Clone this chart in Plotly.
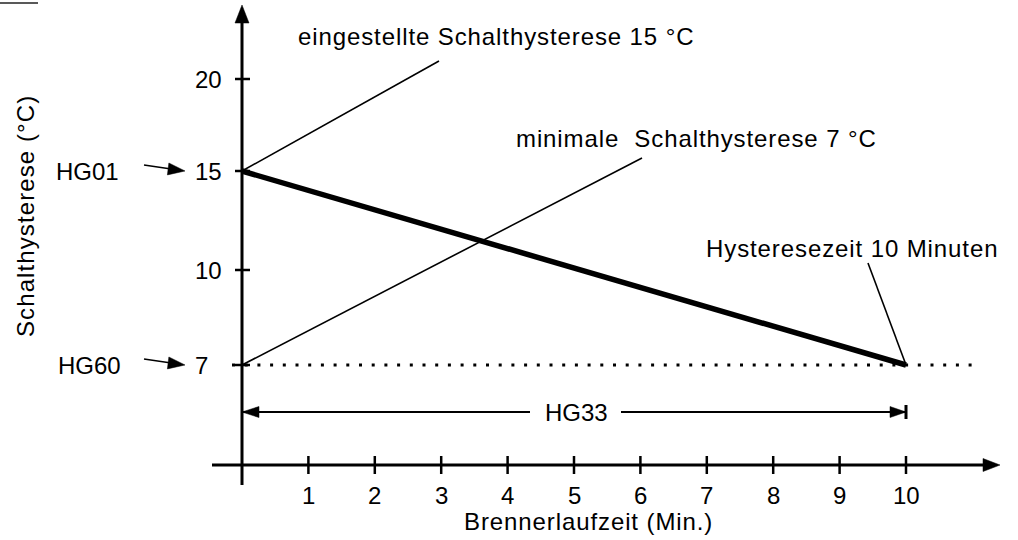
import numpy as np
import plotly.graph_objects as go

# Brennerlaufzeit (Min.) and the resulting switching hysteresis (°C)
laufzeit = [0, 10]
hysterese = [15, 7]

x_ticks = [1, 2, 3, 4, 5, 6, 7, 8, 9, 10]
y_ticks = [7, 10, 15, 20]

hysterese_max = 15   # HG01
hysterese_min = 7    # HG60
hysteresezeit = 10   # HG33

label_max = "eingestellte Schalthysterese 15 °C"
label_min = "minimale\u00a0 Schalthysterese 7 °C"
label_time = "Hysteresezeit 10 Minuten"
x_title = "Brennerlaufzeit (Min.)"
y_title = "Schalthysterese (°C)"

W, H = 1018, 540
FONT = "Liberation Sans, Arial, sans-serif"
FS = 24

# horizontal scale: minutes -> pixel column
X0_PX, X_UNIT = 242, 66.4
# vertical axis is schematic; internal unit = 100 px above the x axis line
AXIS_PY = 465
Y_VALS = [0, 7, 10, 15, 20]
Y_POS = [0, 1.0, 1.95, 2.94, 3.86]


def xd(px):
    return (px - X0_PX) / X_UNIT


def yd(py):
    return (AXIS_PY - py) / 100.0


def ypos(v):
    return float(np.interp(v, Y_VALS, Y_POS))


def spaced(s, ls=0.9):
    return f"<span style='letter-spacing:{ls}px'>{s}</span>"


fig = go.Figure()

# main characteristic: hysteresis falls linearly with burner run time
fig.add_trace(go.Scatter(
    x=laufzeit, y=[ypos(v) for v in hysterese], mode="lines",
    line=dict(color="black", width=5.5), hoverinfo="skip", showlegend=False))

shapes = []
annotations = []


def line(x0, y0, x1, y1, width=1.6, dash=None):
    d = dict(type="line", xref="x", yref="y", x0=x0, y0=y0, x1=x1, y1=y1,
             line=dict(color="black", width=width))
    if dash:
        d["line"]["dash"] = dash
    shapes.append(d)


def head(x, y, ux, uy, length, width):
    # filled triangle with its tip at (x, y); (ux, uy) points tail->tip, y up
    n = (ux ** 2 + uy ** 2) ** 0.5
    ux, uy = ux / n, uy / n
    bx, by = -ux * length, -uy * length
    px_, py_ = -uy * width / 2, ux * width / 2
    path = (f"M 0,0 L {bx + px_:.2f},{by + py_:.2f} "
            f"L {bx - px_:.2f},{by - py_:.2f} Z")
    shapes.append(dict(type="path", xref="x", yref="y",
                       xsizemode="pixel", ysizemode="pixel",
                       xanchor=x, yanchor=y, path=path,
                       fillcolor="black", line=dict(color="black", width=0.5)))


def tick(x, y, dx0, dx1, dy0, dy1, width=2.5):
    shapes.append(dict(type="line", xref="x", yref="y",
                       xsizemode="pixel", ysizemode="pixel",
                       xanchor=x, yanchor=y, x0=dx0, x1=dx1, y0=dy0, y1=dy1,
                       line=dict(color="black", width=width)))


def text(s, x, y, xanchor="center", xref="x", yref="y", angle=0, xshift=0):
    annotations.append(dict(text=s, x=x, y=y, xref=xref, yref=yref,
                            xanchor=xanchor, yanchor="middle", showarrow=False,
                            textangle=angle, xshift=xshift,
                            font=dict(family=FONT, size=FS, color="black")))


# axes with arrow heads
line(0, yd(485), 0, yd(20), width=3)
head(0, yd(5), 0, 1, 18, 14)
line(xd(212), 0, xd(985), 0, width=3)
head(xd(1000), 0, 1, 0, 17, 13)

# tick marks and labels
for t in x_ticks:
    tick(t, 0, 0, 0, -9, 9)
    text(str(t), t, yd(495))
for v in y_ticks:
    tick(0, ypos(v), -7, 8, 0, 0)
    text(str(v), 0, ypos(v), xanchor="left", xshift=193 - X0_PX)

# minimum hysteresis reference (dotted)
line(xd(232), ypos(hysterese_min), xd(975), ypos(hysterese_min),
     width=3, dash="3px,9.7px")

# leader lines to the explanatory labels
line(0, ypos(hysterese_max), xd(439), yd(61))
line(0, ypos(hysterese_min), xd(642), yd(158))
line(hysteresezeit, ypos(hysterese_min), xd(868), yd(263))
text(spaced(label_max), xd(495.5), yd(36))
text(spaced(label_min), xd(696), yd(138))
text(spaced(label_time), xd(852), yd(248))

# HG33 dimension line
y33 = yd(412)
line(0, y33, xd(530), y33, width=1.8)
line(xd(621), y33, hysteresezeit, y33, width=1.8)
head(0, y33, -1, 0, 17, 11)
head(hysteresezeit, y33, 1, 0, 16, 11)
tick(hysteresezeit, y33, 0, 0, -7, 7, width=3)
text("HG33", xd(576), y33)

# parameter pointers HG01 / HG60
for name, v, right in (("HG01", hysterese_max, 121), ("HG60", hysterese_min, 123)):
    yt = ypos(v)
    line(xd(144), yt + 0.06, xd(178), yt + 0.01, width=1.6)
    head(xd(185), yt, 41, -5, 17, 12)
    text(name, xd(right), yt, xanchor="right")

# axis titles
text(spaced(x_title), xd(588), yd(521))
text(spaced(y_title, 1.1), xd(25), yd(216), angle=-90)

# short rule at the top left
shapes.append(dict(type="line", xref="paper", yref="paper",
                   x0=0, x1=38 / W, y0=1 - 3 / H, y1=1 - 3 / H,
                   line=dict(color="#222", width=1.5)))

fig.update_layout(
    width=W, height=H, margin=dict(l=0, r=0, t=0, b=0),
    paper_bgcolor="white", plot_bgcolor="white",
    xaxis=dict(range=[xd(0), xd(W)], visible=False, fixedrange=True),
    yaxis=dict(range=[yd(H), yd(0)], visible=False, fixedrange=True),
    shapes=shapes, annotations=annotations, showlegend=False)

fig.write_html("out.html")
